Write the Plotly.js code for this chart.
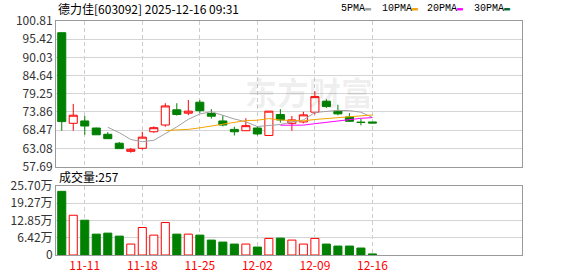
<!DOCTYPE html>
<html>
<head>
<meta charset="utf-8">
<script src="https://cdn.plot.ly/plotly-3.0.1.min.js"></script>
<style>html,body{margin:0;padding:0;background:#fff;}#chart{width:578px;height:276px;}</style>
</head>
<body>
<div id="chart"></div>
<script>
// ---- data ----
const dates = ['11-07','11-10','11-11','11-12','11-13','11-14','11-17','11-18','11-19','11-20','11-21','11-24','11-25','11-26','11-27','11-28','12-01','12-02','12-03','12-04','12-05','12-08','12-09','12-10','12-11','12-12','12-15','12-16'];
const open  = [97.34,70.5,71.2,69.1,67.25,64.6,62.2,63.1,68.0,70.0,74.5,73.5,76.75,73.4,71.2,68.7,68.3,69.1,66.9,73.1,70.5,70.9,73.8,77.05,74.08,72.4,70.85,70.9];
const high  = [97.34,76.25,72.7,69.2,67.9,64.97,63.2,68.0,69.6,76.45,76.45,77.4,77.4,74.7,72.9,69.5,72.0,69.5,74.1,74.7,72.7,73.9,80.0,77.6,76.0,73.5,71.9,70.9];
const low   = [68.3,68.3,67.1,67.1,65.9,63.0,61.8,62.7,67.7,69.5,72.8,72.9,73.6,71.9,69.6,66.9,68.3,66.9,66.9,70.7,68.3,70.5,73.1,75.06,72.9,70.9,69.9,70.5];
const close = [71.0,72.9,69.7,67.1,65.95,63.0,62.8,66.4,69.2,75.65,73.1,74.1,74.25,72.6,70.0,68.0,69.8,67.35,74.1,71.5,71.5,73.0,78.4,75.45,73.3,71.1,70.75,70.6];
const volume = [23.7,14.8,12.95,7.77,8.14,7.03,4.07,10.24,7.4,12.09,7.77,7.77,7.4,5.55,4.81,4.07,4.07,2.96,6.17,6.29,5.55,4.07,6.17,4.07,3.33,3.33,2.59,0.4]; // 万
const ma5  = [null,null,null,null,69.33,67.73,65.71,65.05,65.47,67.41,69.43,71.69,73.26,73.94,72.81,71.79,70.93,69.55,69.85,70.15,70.85,71.49,73.70,73.97,74.33,74.25,73.80,72.24];
const ma10 = [null,null,null,null,null,null,null,null,null,68.37,68.58,68.70,69.16,69.71,70.11,70.61,71.31,71.41,71.90,71.48,71.32,71.21,71.63,71.91,72.24,72.55,72.65,72.97];
const ma20 = [null,null,null,null,null,null,null,null,null,null,null,null,null,null,null,null,null,null,null,69.93,69.95,69.96,70.39,70.81,71.18,71.58,71.98,72.19];
const priceTicks = [57.69,63.08,68.47,73.86,79.25,84.64,90.03,95.42,100.81];
const volTicks = [0,6.42,12.85,19.27,25.70];
const volTickText = ['0','6.42万','12.85万','19.27万','25.70万'];
const dateTicks = ['11-11','11-18','11-25','12-02','12-09','12-16'];

// ---- styles ----
const RED = '#ff0000', GREEN = '#008000';
const isUp = close.map((c,i)=> c >= open[i]);

const traces = [
  {type:'candlestick', x:dates, open:open, high:high, low:low, close:close,
   xaxis:'x', yaxis:'y', whiskerwidth:0,
   increasing:{line:{color:RED,width:1}, fillcolor:'#ffffff'},
   decreasing:{line:{color:GREEN,width:1}, fillcolor:GREEN},
   hoverinfo:'skip'},
  {type:'scatter', mode:'lines', x:dates, y:ma5, xaxis:'x', yaxis:'y', line:{color:'#a0a0a0',width:1}, hoverinfo:'skip'},
  {type:'scatter', mode:'lines', x:dates, y:ma10, xaxis:'x', yaxis:'y', line:{color:'#f5a300',width:1}, hoverinfo:'skip'},
  {type:'scatter', mode:'lines', x:dates, y:ma20, xaxis:'x', yaxis:'y', line:{color:'#ff00ff',width:1}, hoverinfo:'skip'},
  {type:'bar', x:dates, y:volume, xaxis:'x2', yaxis:'y2',
   marker:{color:isUp.map(u=>u?'#ffffff':GREEN), line:{color:isUp.map(u=>u?RED:GREEN), width:1}},
   hoverinfo:'skip'}
];

const tickFont = {family:'Noto Sans CJK SC, Arial, sans-serif', size:12, color:'#333333'};
const xBase = {
  type:'category', range:[-0.5,40], tickvals:dateTicks, ticktext:dateTicks,
  showgrid:true, gridcolor:'#cccccc', griddash:'4px,3px', gridwidth:1,
  showline:true, mirror:true, linecolor:'#9a9a9a', linewidth:1,
  ticks:'', zeroline:false, fixedrange:true
};

const legendItems = [
  {t:'5PMA', c:'#a0a0a0', x:339},
  {t:'10PMA', c:'#f5a300', x:380},
  {t:'20PMA', c:'#ff00ff', x:425},
  {t:'30PMA', c:'#006633', x:472}
];
const L = 56, W = 466, T = 21, H = 234;
const px = x => (x - L) / W;
const py = y => (T + H - y) / H;

const annotations = [
  {text:'德力佳[603092] 2025-12-16 09:31', xref:'paper', yref:'paper', x:px(56), y:py(9),
   xanchor:'left', yanchor:'middle', showarrow:false,
   font:{family:'Noto Sans CJK SC, sans-serif', size:12, color:'#000000'}},
  {text:'成交量:257', xref:'paper', yref:'paper', x:px(57), y:py(176),
   xanchor:'left', yanchor:'middle', showarrow:false,
   font:{family:'Noto Sans CJK SC, sans-serif', size:12, color:'#000000'}},
  {text:'东方财富', xref:'paper', yref:'paper', x:px(309), y:py(91),
   xanchor:'center', yanchor:'middle', showarrow:false,
   font:{family:'Noto Sans CJK SC, sans-serif', size:32, color:'rgba(0,0,0,0.08)', weight:'bold'}}
].concat(legendItems.map(it=>({
   text: it.t + '<span style="color:' + it.c + '">▬</span>', xref:'paper', yref:'paper',
   x:px(it.x), y:py(9), xanchor:'left', yanchor:'middle', showarrow:false,
   font:{family:'Liberation Mono, monospace', size:10, color:'#000000'}
})));

const layout = {
  width:578, height:276,
  margin:{l:L, r:56, t:T, b:21, pad:0},
  paper_bgcolor:'#ffffff', plot_bgcolor:'#ffffff',
  showlegend:false, hovermode:false, dragmode:false,
  boxgap:0.3, boxgroupgap:0, bargap:0.3,
  xaxis: Object.assign({}, xBase, {anchor:'y', showticklabels:false, rangeslider:{visible:false}}),
  xaxis2: Object.assign({}, xBase, {anchor:'y2', matches:'x', showticklabels:true,
     tickfont:{family:'Noto Sans CJK SC, Arial, sans-serif', size:12, color:'#ff0000'}}),
  yaxis: {domain:[0.378,1], range:[57.69,100.81], tickvals:priceTicks, ticktext:priceTicks.map(v=>v.toFixed(2)),
     showgrid:true, gridcolor:'#d4d4d4', gridwidth:1, showline:true, mirror:true, linecolor:'#9a9a9a',
     ticks:'', zeroline:false, tickfont:tickFont, fixedrange:true},
  yaxis2: {domain:[0,0.295], range:[0,25.70], tickvals:volTicks, ticktext:volTickText,
     showgrid:true, gridcolor:'#d4d4d4', gridwidth:1, showline:true, mirror:true, linecolor:'#9a9a9a',
     ticks:'', zeroline:false, tickfont:tickFont, fixedrange:true},
  annotations: annotations
};

Plotly.newPlot('chart', traces, layout, {displayModeBar:false, staticPlot:true});
</script>
</body>
</html>
